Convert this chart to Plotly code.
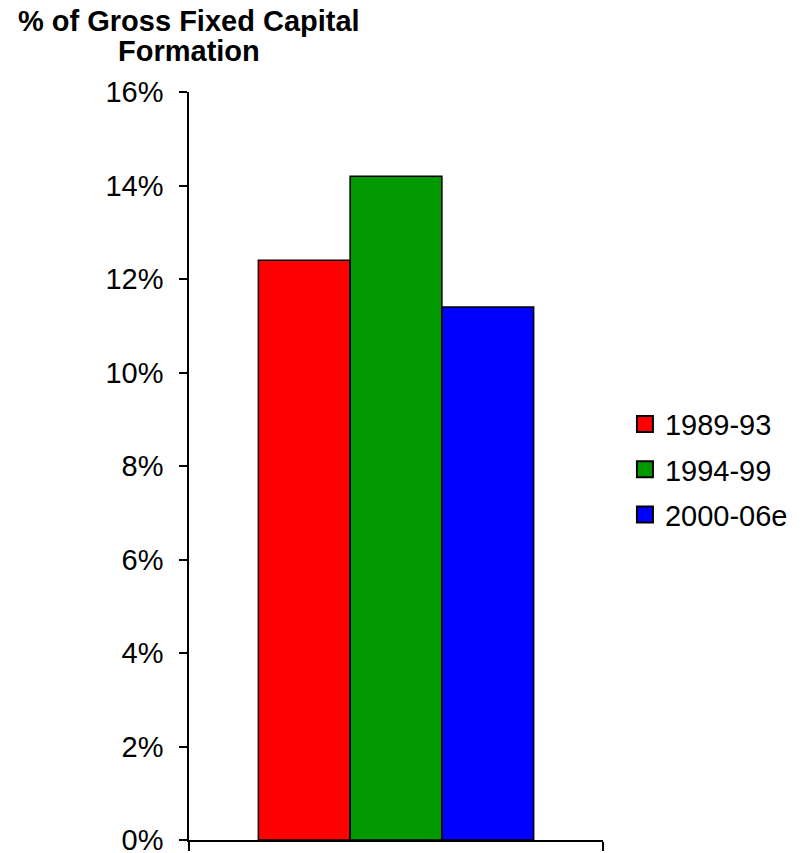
import plotly.graph_objects as go

periods = ["1989-93", "1994-99", "2000-06e"]
shares = [12.4, 14.2, 11.4]
colors = ["#ff0000", "#009900", "#0000ff"]
category = [""]
y_ticks = [0, 2, 4, 6, 8, 10, 12, 14, 16]
y_tick_labels = [f"{v}%" for v in y_ticks]
title_lines = ["% of Gross Fixed Capital", "Formation"]

FONT = "Liberation Sans, Arial, sans-serif"

fig = go.Figure()
for name, val, col in zip(periods, shares, colors):
    fig.add_trace(go.Bar(
        x=category, y=[val], name=name,
        marker=dict(color=col, line=dict(color="black", width=1.5)),
        showlegend=False,
    ))
    # legend swatch, one group per period so the gap can be widened
    fig.add_trace(go.Scatter(
        x=[None], y=[None], mode="markers", name=name, legendgroup=name,
        marker=dict(symbol="square", size=16, color=col,
                    line=dict(color="black", width=2)),
    ))

fig.update_layout(
    width=805, height=853,
    margin=dict(l=189, r=198, t=92, b=13),
    paper_bgcolor="white", plot_bgcolor="white",
    barmode="group", bargap=0.335, bargroupgap=0,
    font=dict(family=FONT, size=29, color="black"),
    legend=dict(x=1.053, y=0.495, xanchor="left", yanchor="middle",
                font=dict(size=29), itemwidth=30, traceorder="grouped",
                tracegroupgap=4.5),
    xaxis=dict(type="category", range=[-0.5, 0.5], showline=True,
               linecolor="black", linewidth=1.5, ticks="outside",
               tickson="boundaries", ticklen=9, tickcolor="black",
               tickwidth=1.5, showticklabels=False, showgrid=False,
               zeroline=False, automargin=False),
    yaxis=dict(range=[0, 16], tickvals=y_ticks, ticktext=y_tick_labels,
               showline=True, linecolor="black", linewidth=1.5,
               ticks="outside", ticklen=8, tickcolor="black", tickwidth=1.5,
               showgrid=False, zeroline=False, ticklabelstandoff=10,
               ticklabeloverflow="allow", automargin=False),
    annotations=[
        dict(text=f"<b>{line}</b>", xref="paper", yref="paper",
             x=0.0, y=1.0, yshift=shift, xanchor="center",
             yanchor="middle", showarrow=False,
             font=dict(size=29, family=FONT))
        for line, shift in zip(title_lines, [71, 41])
    ],
)

fig.write_html("out.html")
